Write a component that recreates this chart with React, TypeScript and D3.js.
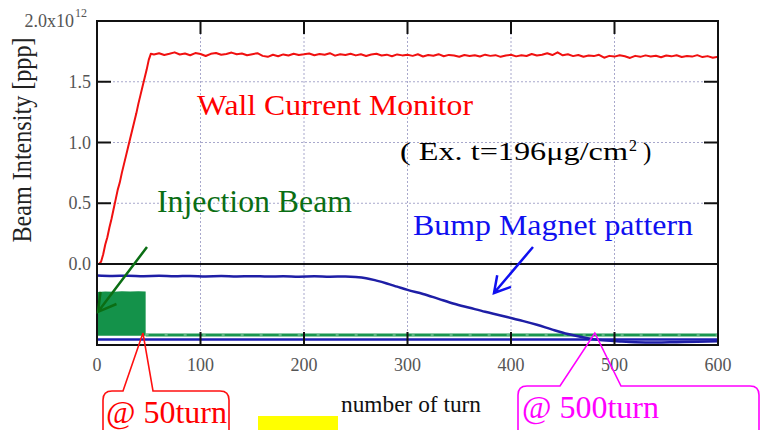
import React from 'react';
import * as d3 from 'd3';

const W = 760;
const H = 430;

const xTicks = [0, 100, 200, 300, 400, 500, 600];
const yTicks = [0, 0.5, 1.0, 1.5];

// Wall current monitor [x1e12 ppp] while injecting (turn, value)
const wcmRamp: [number, number][] = [
  [0, 0.0], [2, 0.0], [4, 0.02], [6, 0.08], [8, 0.16], [10, 0.22], [12, 0.3], [14, 0.37],
  [16, 0.45], [18, 0.53], [20, 0.61], [22, 0.67], [24, 0.75], [26, 0.82], [28, 0.89],
  [30, 0.96], [32, 1.03], [34, 1.1], [36, 1.17], [38, 1.24], [40, 1.32], [42, 1.39],
  [44, 1.46], [46, 1.53], [48, 1.6], [50, 1.68], [52, 1.73],
];

// plateau, one value every 5 turns from turn 55 to 600
const wcmPlateauTurns = d3.range(55, 601, 5);
const wcmPlateau = [
  1.725, 1.735, 1.72, 1.73, 1.742, 1.724, 1.733, 1.718, 1.736, 1.728,
  1.712, 1.73, 1.737, 1.722, 1.729, 1.74, 1.726, 1.733, 1.718, 1.727,
  1.735, 1.713, 1.705, 1.722, 1.71, 1.725, 1.716, 1.73, 1.72, 1.726,
  1.733, 1.718, 1.728, 1.722, 1.735, 1.715, 1.727, 1.72, 1.731, 1.717,
  1.726, 1.712, 1.724, 1.73, 1.716, 1.723, 1.71, 1.725, 1.717, 1.722,
  1.713, 1.726, 1.708, 1.72, 1.714, 1.727, 1.71, 1.721, 1.716, 1.706,
  1.72, 1.712, 1.718, 1.708, 1.723, 1.713, 1.719, 1.705, 1.716, 1.722,
  1.709, 1.718, 1.712, 1.728, 1.716, 1.722, 1.735, 1.72, 1.742, 1.718,
  1.726, 1.711, 1.72, 1.706, 1.716, 1.711, 1.722, 1.698, 1.713, 1.707,
  1.718, 1.71, 1.696, 1.713, 1.705, 1.717, 1.708, 1.714, 1.702, 1.716,
  1.709, 1.718, 1.704, 1.712, 1.707, 1.719, 1.703, 1.711, 1.698, 1.706,
];

// lower panel, arbitrary units (0 = bottom of panel, 1 = top)
const bumpPattern: [number, number][] = [
  [0, 0.858], [15, 0.852], [30, 0.856], [45, 0.85], [60, 0.854], [75, 0.848], [90, 0.853],
  [105, 0.847], [120, 0.851], [135, 0.846], [150, 0.85], [165, 0.845], [180, 0.849],
  [195, 0.844], [210, 0.848], [225, 0.843], [240, 0.846], [250, 0.84], [260, 0.825],
  [270, 0.795], [280, 0.76], [290, 0.72], [300, 0.68], [315, 0.63], [330, 0.57],
  [345, 0.51], [360, 0.46], [375, 0.41], [390, 0.365], [400, 0.333], [412, 0.295],
  [425, 0.25], [440, 0.19], [455, 0.135], [468, 0.098], [480, 0.072], [492, 0.055],
  [505, 0.044], [520, 0.034], [540, 0.03], [560, 0.035], [580, 0.04], [600, 0.046],
];

const injectionBand: [number, number][] = [
  [0, 0.655], [8, 0.662], [16, 0.658], [24, 0.664], [32, 0.66], [40, 0.663], [47, 0.66],
];
const injectionFloor = 0.115;
const injectionTail: [number, number][] = [
  [47, 0.125], [100, 0.123], [200, 0.124], [300, 0.123], [400, 0.124], [500, 0.123], [600, 0.123],
];
const baseLine: [number, number][] = [[0, 0.068], [600, 0.068]];

const FONT = '"Liberation Serif", "Times New Roman", serif';

const x = d3.scaleLinear().domain([0, 600]).range([97, 718]);
const yTop = d3.scaleLinear().domain([0, 2]).range([264, 21]);
const yBot = d3.scaleLinear().domain([0, 1]).range([345, 264]);

function callout(left: number, right: number, top: number, b1: number, b2: number, ax: number, ay: number) {
  const r = 9;
  const bottom = 450;
  return `M${left + r},${top} L${b1},${top} L${ax},${ay} L${b2},${top} L${right - r},${top} Q${right},${top} ${right},${top + r} L${right},${bottom} M${left},${bottom} L${left},${top + r} Q${left},${top} ${left + r},${top}`;
}

function arrow(x1: number, y1: number, x2: number, y2: number, len: number) {
  const a = Math.atan2(y1 - y2, x1 - x2);
  const s = Math.PI / 6;
  const p1 = [x2 + len * Math.cos(a + s), y2 + len * Math.sin(a + s)];
  const p2 = [x2 + len * Math.cos(a - s), y2 + len * Math.sin(a - s)];
  return `M${x1},${y1} L${x2},${y2} M${p1[0]},${p1[1]} L${x2},${y2} L${p2[0]},${p2[1]}`;
}

export default function App() {
  const wcmData: [number, number][] = [
    ...wcmRamp,
    ...wcmPlateauTurns.map((t, i) => [t, wcmPlateau[i]] as [number, number]),
  ];
  const wcmLine = d3.line<[number, number]>().x(d => x(d[0])).y(d => yTop(d[1]));
  const botLine = d3.line<[number, number]>().x(d => x(d[0])).y(d => yBot(d[1]));
  const bumpLine = d3.line<[number, number]>().x(d => x(d[0])).y(d => yBot(d[1])).curve(d3.curveMonotoneX);
  const bandArea = d3.area<[number, number]>().x(d => x(d[0])).y0(yBot(injectionFloor)).y1(d => yBot(d[1]));

  const gridColor = '#a8a8cc';
  const x0 = x(0), x1 = x(600);

  return (
    <svg width={W} height={H} style={{ position: 'absolute', left: 0, top: 0, background: '#fff', fontFamily: FONT }}>
      <rect x={0} y={0} width={W} height={H} fill="#fff" />

      {/* grid */}
      {xTicks.slice(1, -1).map(t => (
        <line key={'gx' + t} x1={x(t)} x2={x(t)} y1={yTop(2)} y2={yBot(0)} stroke={gridColor} strokeWidth={1} strokeDasharray="2,2" />
      ))}
      {yTicks.slice(1).map(v => (
        <line key={'gy' + v} x1={x0} x2={x1} y1={yTop(v)} y2={yTop(v)} stroke={gridColor} strokeWidth={1} strokeDasharray="2,2" />
      ))}

      {/* lower panel traces */}
      <path d={bandArea(injectionBand) || ''} fill="#14924a" />
      <path d={botLine(injectionTail) || ''} fill="none" stroke="#1a9650" strokeWidth={3} />
      <path d={botLine(injectionTail) || ''} fill="none" stroke="#fff" strokeOpacity={0.6} strokeWidth={1} strokeDasharray="3,16" />
      <path d={botLine(baseLine) || ''} fill="none" stroke="#1c1cb0" strokeWidth={2.5} />
      <path d={bumpLine(bumpPattern) || ''} fill="none" stroke="#1e1ea6" strokeWidth={2.5} />

      {/* wall current monitor */}
      <path d={wcmLine(wcmData) || ''} fill="none" stroke="#f01010" strokeWidth={2} strokeLinejoin="round" />

      {/* frames */}
      <rect x={x0} y={yTop(2)} width={x1 - x0} height={yTop(0) - yTop(2)} fill="none" stroke="#111" strokeWidth={2} />
      <rect x={x0} y={yBot(1)} width={x1 - x0} height={yBot(0) - yBot(1)} fill="none" stroke="#111" strokeWidth={2} />

      {/* ticks */}
      {xTicks.slice(1, -1).map(t => (
        <g key={'tx' + t} stroke="#111" strokeWidth={2}>
          <line x1={x(t)} x2={x(t)} y1={yTop(2)} y2={yTop(2) + 13} />
          <line x1={x(t)} x2={x(t)} y1={yBot(0)} y2={yBot(0) - 13} />
        </g>
      ))}
      {yTicks.slice(1).map(v => (
        <g key={'ty' + v} stroke="#111" strokeWidth={2}>
          <line x1={x0} x2={x0 + 14} y1={yTop(v)} y2={yTop(v)} />
          <line x1={x1} x2={x1 - 14} y1={yTop(v)} y2={yTop(v)} />
        </g>
      ))}

      {/* tick labels */}
      {xTicks.map(t => (
        <text key={'lx' + t} x={x(t)} y={371} textAnchor="middle" fontSize={18} fill="#555" style={{ fontFamily: FONT }}>{t}</text>
      ))}
      {yTicks.map(v => (
        <text key={'ly' + v} x={91} y={yTop(v) + 6} textAnchor="end" fontSize={18} fill="#555" style={{ fontFamily: FONT }}>{d3.format('.1f')(v)}</text>
      ))}
      <text x={74} y={yTop(2) + 6} textAnchor="end" fontSize={18} fill="#555" style={{ fontFamily: FONT }}>2.0x10</text>
      <text x={75} y={yTop(2) - 4} fontSize={12} fill="#555" style={{ fontFamily: FONT }}>12</text>

      {/* axis titles */}
      <text transform="translate(31,140) rotate(-90)" textAnchor="middle" fontSize={27} fill="#222" textLength={205} lengthAdjust="spacingAndGlyphs" style={{ fontFamily: FONT }}>Beam Intensity [ppp]</text>
      <text x={341} y={412} fontSize={23} fill="#111" textLength={140} lengthAdjust="spacingAndGlyphs" style={{ fontFamily: FONT }}>number of turn</text>
      <rect x={258} y={416} width={80} height={14} fill="#ffff00" />

      {/* annotations */}
      <text x={197} y={115} fontSize={30} fill="#ff0000" textLength={276} lengthAdjust="spacingAndGlyphs" style={{ fontFamily: FONT }}>Wall Current Monitor</text>
      <text x={400} y={160} fontSize={25} fill="#000" textLength={228} lengthAdjust="spacingAndGlyphs" style={{ fontFamily: FONT }}>( Ex. t=196μg/cm</text>
      <text x={629} y={151} fontSize={16} fill="#000" style={{ fontFamily: FONT }}>2</text>
      <text x={643} y={160} fontSize={25} fill="#000" style={{ fontFamily: FONT }}>)</text>

      <text x={157} y={212} fontSize={31} fill="#0b6e14" textLength={195} lengthAdjust="spacingAndGlyphs" style={{ fontFamily: FONT }}>Injection Beam</text>
      <path d={arrow(147, 247, x(1), yBot(0.41), 20)} fill="none" stroke="#0b6e14" strokeWidth={2.5} />

      <text x={413} y={235} fontSize={30} fill="#1010f0" textLength={280} lengthAdjust="spacingAndGlyphs" style={{ fontFamily: FONT }}>Bump Magnet pattern</text>
      <path d={arrow(533, 247, 494, 293, 18)} fill="none" stroke="#1010f0" strokeWidth={2.5} />

      <path d={callout(103, 229, 391, 123, 153, x(44.4), yBot(0.148))} fill="none" stroke="#ff1010" strokeWidth={1.6} />
      <text x={106} y={423} fontSize={32} fill="#ff0000" style={{ fontFamily: FONT }}>@ 50turn</text>

      <path d={callout(518, 759, 386, 560, 621, x(481), yBot(0.148))} fill="none" stroke="#ff00ff" strokeWidth={1.6} />
      <text x={522} y={418} fontSize={32} fill="#ff00ff" style={{ fontFamily: FONT }}>@ 500turn</text>
    </svg>
  );
}
